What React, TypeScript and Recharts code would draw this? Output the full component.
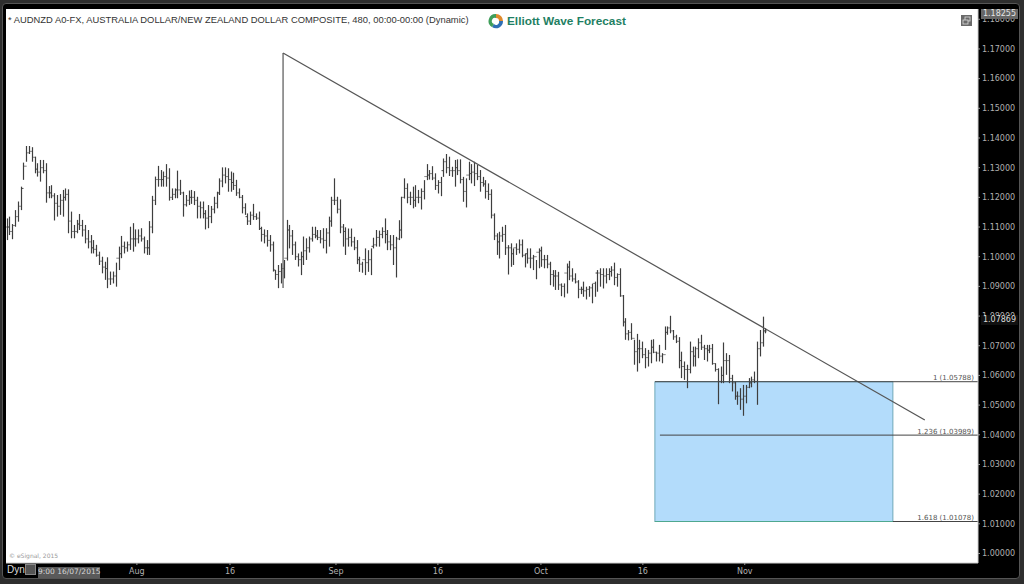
import React from "react";
import { ComposedChart, Bar, XAxis, YAxis, ReferenceLine, ReferenceArea } from "recharts";

// Prices in 1/10000 units, one entry per 480-minute bar
const highs = [
11129,11135,11110,11157,11186,11236,11317,11373,11373,11369,11337,11315,11326,11326,11315,11238,11241,11214,11208,11211,
11225,11230,11227,11152,11107,11124,11144,11124,11107,11090,11073,11056,11040,11017,11000,10983,10998,10950,10950,
10980,11034,11070,11051,11051,11101,11113,11092,11092,11096,11068,11056,11120,11205,11270,11306,11292,11287,11312,11298,
11230,11230,11290,11259,11219,11208,11223,11225,11221,11202,11186,11186,11157,11174,11171,11202,11219,11264,11301,
11301,11298,11287,11283,11259,11230,11208,11180,11146,11152,11178,11146,11152,11101,11092,11090,11073,11051,10955,10972,
10978,10989,11124,11107,11090,11051,11011,11017,11068,11062,11068,11101,11101,11090,11090,11096,11096,11135,11202,11264,
11202,11193,11110,11099,11095,11095,11067,11056,11000,10983,11028,11022,11028,11064,11090,11088,11099,11129,11090,11073,
11073,11067,11123,11202,11264,11247,11219,11236,11241,11225,11230,11258,11312,11292,11305,11281,11258,11269,11331,11346,
11337,11303,11326,11328,11328,11269,11264,11320,11312,11320,11309,11292,11269,11258,11247,11227,11146,11079,11084,11101,
11107,11039,11045,11028,11045,11058,11058,11011,11028,11028,11006,10989,11028,11034,11006,11006,10983,10955,10955,10949,
10910,10910,10977,10986,10961,10944,10921,10899,10916,10899,10901,10908,10916,10955,10961,10961,10961,10961,10968,10980,
10944,10961,10871,10793,10753,10776,10720,10740,10720,10714,10692,10686,10720,10722,10680,10703,10675,10765,10765,10801,
10753,10737,10729,10680,10647,10636,10714,10697,10697,10725,10737,10703,10703,10703,10706,10641,10624,10630,10711,10675,
10669,10602,10579,10546,10557,10568,10568,10591,10596,10613,10714,10753,10798,10759];
const lows = [
11056,11073,11059,11101,11118,11157,11259,11320,11346,11320,11281,11270,11253,11281,11182,11197,11197,11122,11135,11141,
11135,11189,11079,11062,11062,11079,11090,11068,11045,11028,11011,11011,11000,10972,10944,10922,10894,10905,10910,
10899,10955,10995,11011,11017,11023,11017,11034,11045,11051,11011,11006,11006,11079,11174,11236,11236,11236,11236,11189,
11191,11197,11197,11208,11135,11169,11174,11178,11174,11129,11129,11129,11092,11096,11113,11146,11163,11208,11234,
11247,11219,11219,11225,11205,11197,11146,11141,11107,11107,11124,11124,11090,11051,11045,11034,11017,10950,10922,10894,
10910,10927,10987,11028,11006,10989,10967,10938,10972,10989,11014,11051,11062,11056,11045,11028,11011,11034,11101,11174,
11146,11079,11034,11006,11034,11034,11022,10975,10949,10946,10938,10949,10938,11028,11034,11034,11062,11045,11022,11022,
10972,10930,11056,11062,11196,11180,11174,11163,11168,11180,11159,11193,11258,11260,11258,11225,11213,11204,11269,11281,
11272,11269,11236,11275,11247,11185,11166,11258,11247,11238,11258,11219,11236,11196,11191,11129,11056,11006,10994,11050,
11006,10940,10966,10972,11006,11011,10998,10964,10977,10961,10955,10924,10961,10966,10961,10961,10904,10899,10888,10888,
10867,10863,10876,10921,10916,10910,10860,10874,10865,10856,10865,10843,10865,10882,10899,10893,10910,10921,10933,10904,
10899,10865,10765,10720,10718,10720,10636,10613,10641,10658,10624,10630,10641,10675,10647,10647,10641,10686,10737,10742,
10720,10709,10624,10591,10585,10557,10607,10630,10630,10658,10686,10652,10647,10675,10636,10613,10503,10574,10574,10602,
10574,10546,10518,10501,10484,10464,10506,10557,10560,10574,10501,10664,10697,10742];
const closes = [
11100,11085,11105,11135,11170,11230,11305,11350,11355,11335,11295,11285,11300,11290,11215,11215,11205,11180,11170,11190,
11200,11210,11120,11085,11085,11110,11105,11090,11060,11050,11030,11025,11005,10985,10965,10960,10925,10925,10935,
10995,11010,11035,11030,11040,11060,11060,11060,11070,11060,11030,11030,11100,11190,11260,11260,11260,11270,11265,11200,
11210,11225,11225,11215,11175,11190,11200,11200,11190,11170,11165,11145,11130,11135,11160,11180,11215,11255,11275,
11270,11260,11250,11240,11215,11200,11165,11135,11120,11140,11135,11130,11095,11075,11070,11055,11040,10955,10940,10950,
10960,10995,11090,11070,11040,11000,10990,11000,11020,11030,11060,11075,11070,11065,11060,11055,11080,11120,11190,11190,
11160,11100,11085,11060,11065,11050,11030,10990,10975,10990,10980,10990,11035,11040,11065,11075,11085,11075,11050,11040,
11030,11060,11090,11200,11230,11200,11200,11190,11200,11200,11220,11270,11275,11280,11265,11240,11250,11290,11320,11300,
11290,11290,11300,11290,11260,11220,11275,11280,11285,11280,11270,11250,11245,11220,11210,11140,11070,11050,11070,11075,
11030,11030,11010,11030,11025,11040,11005,11010,10995,10995,11000,11015,11020,10990,10990,10975,10940,10935,10935,10905,
10900,10945,10965,10935,10925,10915,10890,10890,10885,10890,10895,10910,10945,10945,10940,10935,10940,10950,10955,10930,
10940,10868,10780,10740,10745,10725,10680,10690,10690,10670,10660,10675,10695,10678,10675,10665,10670,10745,10760,10750,
10730,10715,10650,10630,10620,10620,10680,10665,10690,10710,10695,10690,10685,10690,10640,10620,10580,10600,10650,10650,
10590,10575,10530,10530,10520,10530,10560,10575,10585,10580,10690,10710,10750,10750];

const priceTicks = [1.0,1.01,1.02,1.03,1.04,1.05,1.06,1.07,1.08,1.09,1.1,1.11,1.12,1.13,1.14,1.15,1.16,1.17,1.18];
const dateTicks = [46.5, 79.75, 117.6, 154, 190.8, 227.2, 263.6];
const dateLabels = ["Aug", "16", "Sep", "16", "Oct", "16", "Nov"];

const barDomain = [-0.25, 346.9];
const trendStart = { bar: 98.7, price: 1.16863 };
const trendBase = 1.08945;
const trendEnd = { bar: 327.9, price: 1.04498 };
const fibLevels = [
  { text: "1 (1.05788)", price: 1.05788, from: 231.5 },
  { text: "1.236 (1.03989)", price: 1.03989, from: 233.3 },
  { text: "1.618 (1.01078)", price: 1.01078, from: 231.5 },
];
const boxBars = [231.5, 316.5];

const rows = highs.map((h, i) => ({
  bar: i,
  range: [lows[i] / 10000, h / 10000],
  high: h / 10000,
  low: lows[i] / 10000,
  open: (i === 0 ? closes[0] : closes[i - 1]) / 10000,
  close: closes[i] / 10000,
}));

const OhlcShape = (p: any) => {
  const { x, y, width, height, payload } = p;
  const cx = Math.round(x + width / 2) + 0.5;
  const span = payload.high - payload.low || 1;
  const yAt = (v: number) => y + (height * (payload.high - v)) / span;
  return (
    <g stroke="#3e3e3e" strokeWidth={0.9}>
      <line x1={cx} x2={cx} y1={y} y2={y + height} strokeWidth={1.2} />
      <line x1={cx - 1.2} x2={cx} y1={yAt(payload.open)} y2={yAt(payload.open)} />
      <line x1={cx} x2={cx + 1.2} y1={yAt(payload.close)} y2={yAt(payload.close)} />
    </g>
  );
};

const FibLabel = (text: string) => (p: any) => (
  <text x={974} y={p.viewBox.y - 1.5} textAnchor="end" fontSize={7} fill="#555" fontFamily="'DejaVu Sans', sans-serif">
    {text}
  </text>
);

const abs = (l: number, t: number, extra: React.CSSProperties = {}): React.CSSProperties => ({
  position: "absolute", left: l, top: t, whiteSpace: "nowrap", ...extra,
});

export default function App() {
  return (
    <div style={{ position: "absolute", left: 0, top: 0, width: 1024, height: 584, background: "#2e2e2e", overflow: "hidden" }}>
      <div style={{ position: "absolute", left: 2, top: 3, width: 1016, height: 574, background: "#000", border: "1px solid #555", borderRadius: 4 }} />
      <div style={{ position: "absolute", left: 6, top: 9, width: 972, height: 554, background: "#fff" }} />
      <div style={{ position: "absolute", left: 0, top: 0 }}>
        <ComposedChart width={1024} height={584} data={rows} margin={{ top: 9, right: 0, bottom: 0, left: 6 }}>
          <XAxis
            dataKey="bar" type="number" domain={barDomain} allowDataOverflow ticks={dateTicks} height={21}
            tickFormatter={(v: number) => dateLabels[dateTicks.indexOf(v)]}
            tick={{ fill: "#b0b0b0", fontSize: 8, fontFamily: "'DejaVu Sans', sans-serif" }}
            axisLine={{ stroke: "#cfcfcf" }} tickLine={{ stroke: "#999" }} tickSize={2} tickMargin={3}
          />
          <YAxis
            orientation="right" type="number" domain={[0.9968, 1.18346]} allowDataOverflow ticks={priceTicks} width={46}
            tickFormatter={(v: number) => v.toFixed(5)} interval={0}
            tick={{ fill: "#b0b0b0", fontSize: 8, fontFamily: "'DejaVu Sans', sans-serif" }}
            axisLine={{ stroke: "#cfcfcf" }} tickLine={{ stroke: "#999" }} tickSize={2}
          />
          <ReferenceArea x1={boxBars[0]} x2={boxBars[1]} y1={fibLevels[2].price} y2={fibLevels[0].price}
            fill="#b3dcfb" fillOpacity={1} stroke="#6fa8b8" strokeWidth={1} />
          <Bar dataKey="range" barSize={3} isAnimationActive={false} shape={OhlcShape} />
          <ReferenceLine segment={[{ x: trendStart.bar, y: trendBase }, { x: trendStart.bar, y: trendStart.price }]} stroke="#555" strokeWidth={1.2} />
          <ReferenceLine segment={[{ x: trendStart.bar, y: trendStart.price }, { x: trendEnd.bar, y: trendEnd.price }]} stroke="#555" strokeWidth={1.2} />
          {fibLevels.map((f) => (
            <ReferenceLine key={f.text} segment={[{ x: f.from, y: f.price }, { x: barDomain[1], y: f.price }]} stroke="#444" strokeWidth={1}
              label={FibLabel(f.text)} />
          ))}
          <ReferenceLine segment={[{ x: boxBars[0], y: fibLevels[2].price }, { x: boxBars[1], y: fibLevels[2].price }]} stroke="#4fa88f" strokeWidth={1} />
        </ComposedChart>
      </div>

      <div style={abs(8, 14, { fontFamily: "'Liberation Sans', sans-serif", fontSize: 9.4, color: "#333" })}>
        * AUDNZD A0-FX, AUSTRALIA DOLLAR/NEW ZEALAND DOLLAR COMPOSITE, 480, 00:00-00:00 (Dynamic)
      </div>
      <svg style={abs(488, 13)} width={16} height={16} viewBox="0 0 16 16">
        <path d="M8 1 A7 7 0 0 1 15 8 L11 8 A3 3 0 0 0 8 5 Z" fill="#e08a2c" />
        <path d="M15 8 A7 7 0 0 1 4 14 L6 11 A3 3 0 0 0 11 8 Z" fill="#2f6fb5" />
        <path d="M4 14 A7 7 0 0 1 8 1 L8 5 A3 3 0 0 0 6 11 Z" fill="#3f9e5a" />
      </svg>
      <div style={abs(507, 14, { fontFamily: "'Liberation Sans', sans-serif", fontWeight: 700, fontSize: 11.8, lineHeight: "14px", color: "#1f7f63" })}>
        Elliott Wave Forecast
      </div>
      <svg style={abs(961, 15)} width={11} height={11} viewBox="0 0 11 11">
        <rect width={11} height={11} fill="#6a6a6a" />
        <rect x={4} y={2} width={5} height={4} fill="none" stroke="#ddd" strokeWidth={0.8} />
        <rect x={2} y={5} width={5} height={4} fill="#6a6a6a" stroke="#ddd" strokeWidth={0.8} />
      </svg>
      <div style={abs(981, 9, { width: 37, height: 10, background: "#666", color: "#e4e4e4", fontSize: 8, lineHeight: "10px", textAlign: "center", fontFamily: "'DejaVu Sans', sans-serif" })}>1.18255</div>
      <div style={abs(981, 315, { width: 37, height: 10, background: "#111", color: "#ddd", fontSize: 8, lineHeight: "10px", textAlign: "center", fontFamily: "'DejaVu Sans', sans-serif" })}>1.07869</div>
      <div style={abs(9, 552, { fontFamily: "'DejaVu Sans', sans-serif", fontSize: 6, color: "#999" })}>© eSignal, 2015</div>
      <div style={abs(7, 564, { fontFamily: "'Liberation Sans', sans-serif", fontSize: 10, color: "#ddd" })}>Dyn</div>
      <div style={{ position: "absolute", left: 25, top: 564, width: 11, height: 11, background: "#555", border: "1px solid #888", boxSizing: "border-box" }} />
      <div style={abs(38, 567, { width: 62, height: 10.5, background: "#5a5a5a", color: "#d8d8d8", fontSize: 7.5, lineHeight: "10.5px", textAlign: "center", fontFamily: "'DejaVu Sans', sans-serif" })}>9:00 16/07/2015</div>
    </div>
  );
}
